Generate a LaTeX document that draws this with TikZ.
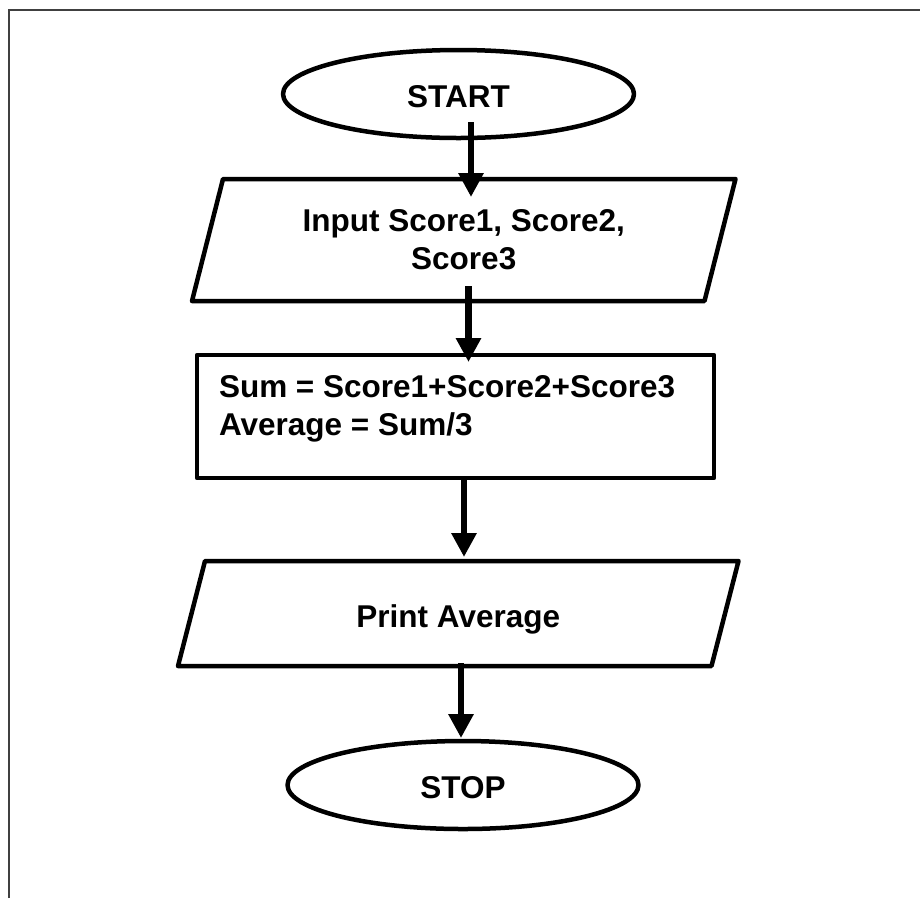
\documentclass[tikz,border=0pt]{standalone}
\usepackage{fontspec}
\setmainfont{Liberation Sans}
\usetikzlibrary{arrows.meta,shapes.geometric}
\definecolor{pagegray}{RGB}{64,64,64}

\begin{document}
\begin{tikzpicture}[x=1pt,y=-1pt,
  txt/.style={font=\fontsize{31.5}{38}\selectfont\bfseries, inner sep=0pt, outer sep=0pt},
  shapeline/.style={draw=black, line width=4.5pt, line join=round},
  terminal/.style={shapeline, ellipse, txt, text height=27.5pt, text depth=0pt,
    minimum width=351pt, minimum height=88pt},
  procbox/.style={shapeline, rectangle, inner sep=0pt, outer sep=0pt},
  iobody/.style={txt, align=center, rectangle},
  flow/.style={line width=6.5pt, -{Triangle[length=24pt,width=24pt]}},
  pageline/.style={draw=pagegray, line width=2pt}]

\useasboundingbox (0,0) rectangle (920,898);

% page edge
\draw[pageline] (9,898) -- (9,10) -- (920,10);

% terminals
\node[terminal] (start) at (458.5,94) {START};
\node[terminal] (stop) at (463,785) {STOP};

% input / output bodies, outlined as parallelograms
\node[iobody, minimum width=512.5pt, minimum height=122pt] (input) at (463.75,240)
  {Input Score1, Score2,\\Score3};
\draw[shapeline] ([xshift=15.5pt]input.north west) -- ([xshift=15.5pt]input.north east)
  -- ([xshift=-15.5pt]input.south east) -- ([xshift=-15.5pt]input.south west) -- cycle;

\node[iobody, minimum width=533.5pt, minimum height=105pt, text height=27.5pt, text depth=0pt]
  (print) at (458.25,613.5) {Print Average};
\draw[shapeline] ([xshift=13.5pt]print.north west) -- ([xshift=13.5pt]print.north east)
  -- ([xshift=-13.5pt]print.south east) -- ([xshift=-13.5pt]print.south west) -- cycle;

% process step
\node[procbox, minimum width=517pt, minimum height=123pt] (calc) at (455.5,416.5) {};
\node[txt, anchor=north west, align=left] (calctext) at ([shift={(22,20)}]calc.north west)
  {Sum = Score1+Score2+Score3\\Average = Sum/3};

% flow arrows
\draw[flow] ([shift={(12.5,-16)}]start.south) -- ([shift={(7.25,18)}]input.north);
\draw[flow] ([shift={(4.75,-15)}]input.south) -- ([shift={(13,7)}]calc.north);
\draw[flow] ([shift={(8.5,2)}]calc.south) -- ([shift={(5.75,-4)}]print.north);
\draw[flow] ([shift={(2.75,-3)}]print.south) -- ([shift={(-2,-3)}]stop.north);

\end{tikzpicture}
\end{document}
